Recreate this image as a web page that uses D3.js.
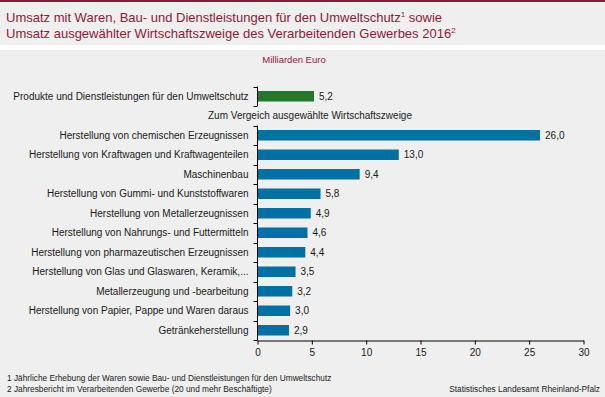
<!DOCTYPE html>
<html>
<head>
<meta charset="utf-8">
<script src="https://cdn.jsdelivr.net/npm/d3@7"></script>
<style>
  body { margin: 0; background: #fff; }
  svg { display: block; font-family: "Liberation Sans", Arial, sans-serif; }
</style>
</head>
<body>
<svg id="chart" width="605" height="397"></svg>
<script>
// data
const greenCategory = 'Produkte und Dienstleistungen für den Umweltschutz';
const greenValue = 5.2;
const compareTitle = 'Zum Vergeich ausgewählte Wirtschaftszweige';
const categories = [
  'Herstellung von chemischen Erzeugnissen',
  'Herstellung von Kraftwagen und Kraftwagenteilen',
  'Maschinenbau',
  'Herstellung von Gummi- und Kunststoffwaren',
  'Herstellung von Metallerzeugnissen',
  'Herstellung von Nahrungs- und Futtermitteln',
  'Herstellung von pharmazeutischen Erzeugnissen',
  'Herstellung von Glas und Glaswaren, Keramik,...',
  'Metallerzeugung und -bearbeitung',
  'Herstellung von Papier, Pappe und Waren daraus',
  'Getränkeherstellung'
];
const values = [26.0, 13.0, 9.4, 5.8, 4.9, 4.6, 4.4, 3.5, 3.2, 3.0, 2.9];
const xTicks = [0, 5, 10, 15, 20, 25, 30];
const footnotes = [
  '1 Jährliche Erhebung der Waren sowie Bau- und Dienstleistungen für den Umweltschutz',
  '2 Jahresbericht im Verarbeitenden Gewerbe (20 und mehr Beschäftigte)'
];
const source = 'Statistisches Landesamt Rheinland-Pfalz';

const W = 605, H = 397;
const maroon = '#8a1a3a';
const txt = '#1a1a1a';

let svg = d3.select('#chart');

// backgrounds
svg.append('rect').attr('width', W).attr('height', H).attr('fill', '#eeefee');
svg.append('rect').attr('y', 45).attr('width', W).attr('height', 5).attr('fill', '#ffffff');
svg.append('rect').attr('width', W).attr('height', 2).attr('fill', maroon);

// title
let title = svg.append('text').attr('fill', maroon).style('font-size', '13px');
let t1 = title.append('tspan').attr('x', 6).attr('y', 22);
t1.append('tspan').text('Umsatz mit Waren, Bau- und Dienstleistungen für den Umweltschutz');
t1.append('tspan').attr('dy', -5).style('font-size', '8px').text('1');
t1.append('tspan').attr('dy', 5).text(' sowie');
let t2 = title.append('tspan').attr('x', 6).attr('y', 38);
t2.append('tspan').text('Umsatz ausgewählter Wirtschaftszweige des Verarbeitenden Gewerbes 2016');
t2.append('tspan').attr('dy', -5).style('font-size', '8px').text('2');

svg.append('text')
  .attr('x', 294).attr('y', 63)
  .attr('text-anchor', 'middle')
  .attr('fill', maroon)
  .style('font-size', '9.5px')
  .text('Milliarden Euro');

// scales
const rows = [greenCategory, compareTitle].concat(categories);
let y = d3.scaleBand().domain(rows).range([86.5, 340]).padding(0);
let x = d3.scaleLinear().domain([0, 30]).range([257.5, 583.5]);
const step = y.step();
const barH = 10.5;
const off = (step - barH) / 2;

// bars
let g = svg.append('g');
g.append('rect')
  .attr('x', x(0)).attr('y', y(greenCategory) + off)
  .attr('width', x(greenValue) - x(0)).attr('height', barH)
  .attr('fill', '#23782c');

g.selectAll('.bar')
  .data(categories)
  .enter()
  .append('rect')
  .attr('class', 'bar')
  .attr('x', x(0))
  .attr('y', d => y(d) + off)
  .attr('width', (d, i) => x(values[i]) - x(0))
  .attr('height', barH)
  .attr('fill', '#0071a4');

// value labels
const fmt = v => v.toFixed(1).replace('.', ',');
const allRows = [greenCategory].concat(categories);
const allVals = [greenValue].concat(values);
g.selectAll('.val')
  .data(allRows)
  .enter()
  .append('text')
  .attr('class', 'val')
  .attr('x', (d, i) => x(allVals[i]) + 5)
  .attr('y', d => y(d) + step / 2 + 3.5)
  .attr('fill', txt)
  .style('font-size', '10px')
  .text((d, i) => fmt(allVals[i]));

// category labels
g.selectAll('.lab')
  .data(allRows)
  .enter()
  .append('text')
  .attr('class', 'lab')
  .attr('x', x(0) - 9)
  .attr('y', d => y(d) + step / 2 + 3.5)
  .attr('text-anchor', 'end')
  .attr('fill', txt)
  .style('font-size', '10px')
  .text(d => d);

g.append('text')
  .attr('x', 208)
  .attr('y', y(compareTitle) + step / 2 + 3.5)
  .attr('fill', txt)
  .style('font-size', '10px')
  .text(compareTitle);

// y axis lines with ticks at band edges
const ax = svg.append('g').attr('stroke', '#000').attr('stroke-width', 1);
ax.append('line')
  .attr('x1', x(0)).attr('x2', x(0))
  .attr('y1', y(greenCategory)).attr('y2', y(greenCategory) + step);
[y(greenCategory), y(greenCategory) + step].forEach(v => {
  ax.append('line').attr('x1', x(0) - 4).attr('x2', x(0))
    .attr('y1', Math.round(v) + 0.5).attr('y2', Math.round(v) + 0.5);
});
ax.append('line')
  .attr('x1', x(0)).attr('x2', x(0))
  .attr('y1', y(categories[0])).attr('y2', 340.5);
categories.forEach(c => {
  let v = Math.round(y(c)) + 0.5;
  ax.append('line').attr('x1', x(0) - 4).attr('x2', x(0)).attr('y1', v).attr('y2', v);
});
ax.append('line').attr('x1', x(0) - 4).attr('x2', x(0)).attr('y1', 340.5).attr('y2', 340.5);

// x axis
let xAxis = svg.append('g')
  .attr('transform', 'translate(0,340.5)')
  .call(d3.axisBottom(x).tickValues(xTicks).tickSize(4).tickSizeOuter(0).tickPadding(4));
xAxis.select('.domain').attr('stroke', '#000');
xAxis.selectAll('line').attr('stroke', '#000');
xAxis.selectAll('text')
  .attr('fill', txt)
  .style('font-size', '10px')
  .style('font-family', '"Liberation Sans", Arial, sans-serif');

// footnotes
svg.selectAll('.fn')
  .data(footnotes)
  .enter()
  .append('text')
  .attr('class', 'fn')
  .attr('x', 7)
  .attr('y', (d, i) => 381 + i * 11)
  .attr('fill', txt)
  .style('font-size', '8.3px')
  .text(d => d);

svg.append('text')
  .attr('x', 600).attr('y', 392)
  .attr('text-anchor', 'end')
  .attr('fill', txt)
  .style('font-size', '8.3px')
  .text(source);
</script>
</body>
</html>
